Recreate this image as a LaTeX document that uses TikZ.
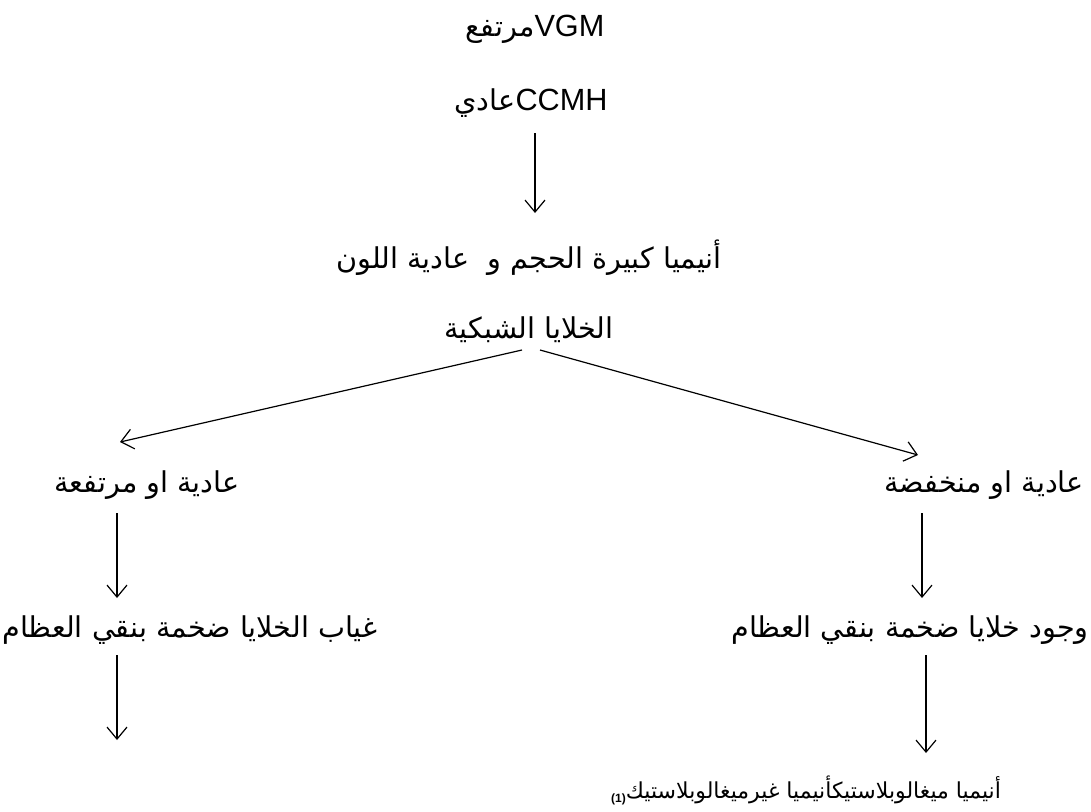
\documentclass[tikz,border=0pt]{standalone}
\usepackage{fontspec}
\setmainfont{Liberation Sans}
\newfontfamily\arabicfont[Script=Arabic]{DejaVu Sans}
\TeXXeTstate=1
\usetikzlibrary{arrows.meta}
\usetikzlibrary{calc}

\begin{document}
\begin{tikzpicture}[x=0.75pt,y=-0.75pt,
lbl/.style={inner sep=0pt,font=\fontsize{21.5}{25}\selectfont},
latin/.style={inner sep=0pt,font=\fontsize{23}{27}\selectfont},
arr/.style={-{Straight Barb[length=9pt,width=15pt]},line width=0.9pt}]
\useasboundingbox (0,0) rectangle (1091,811);
\par
\node[latin] (vgm) at (535,29) {{\arabicfont\fontsize{21.5}{25}\selectfont\beginR مرتفع\endR}VGM};
\node[latin] (ccmh) at (531,103) {{\arabicfont\fontsize{21.5}{25}\selectfont\beginR عادي\endR}CCMH};
\node[lbl] (anemia) at (529,258) {\arabicfont\beginR أنيميا كبيرة الحجم و\ \ عادية اللون\endR};
\node[lbl] (reticulo) at (529,330) {\arabicfont\beginR الخلايا الشبكية\endR};
\node[lbl] (lefthigh) at (147,485) {\arabicfont\beginR عادية او مرتفعة\endR};
\node[lbl] (rightlow) at (984,485) {\arabicfont\beginR عادية او منخفضة\endR};
\node[lbl] (leftabs) at (190,630) {\arabicfont\beginR غياب الخلايا ضخمة بنقي العظام\endR};
\node[lbl] (rightpres) at (910,630) {\arabicfont\beginR وجود خلايا ضخمة بنقي العظام\endR};
\node[inner sep=0pt,font=\fontsize{16.5}{19}\selectfont] (megalo) at (806,790) {\raisebox{-3pt}{\fontsize{9}{10}\selectfont\bfseries(1)}{\arabicfont\beginR أنيميا ميغالوبلاستيكأنيميا غيرميغالوبلاستيك\endR}};
\coordinate (nonmegalo) at (117,740);
\par
\draw[arr] ($(ccmh)+(4,30)$) -- ($(anemia)+(6,-45)$);
\draw[arr] ($(reticulo)+(-7,20)$) -- ($(lefthigh)+(-27,-43)$);
\draw[arr] ($(reticulo)+(11,20)$) -- ($(rightlow)+(-66,-30)$);
\draw[arr] ($(lefthigh)+(-30,28)$) -- ($(leftabs)+(-73,-32)$);
\draw[arr] ($(rightlow)+(-62,28)$) -- ($(rightpres)+(12,-32)$);
\draw[arr] ($(leftabs)+(-73,25)$) -- (nonmegalo);
\draw[arr] ($(rightpres)+(16,25)$) -- ($(megalo)+(120,-37)$);
\par
\end{tikzpicture}
\end{document}
